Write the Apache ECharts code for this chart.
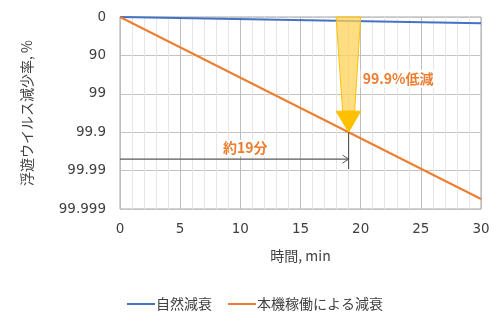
<!DOCTYPE html>
<html><head><meta charset="utf-8">
<script src="https://cdn.jsdelivr.net/npm/echarts@6/dist/echarts.min.js"></script>
<style>html,body{margin:0;padding:0;background:#fff}#c{width:504px;height:326px}</style>
</head><body><div id="c"></div>
<script>
// Data (y = log10 reduction, 0 => 0%, 1 => 90%, 2 => 99% ...)
const yTickLabels = ['0', '90', '99', '99.9', '99.99', '99.999'];
const naturalTimes = [0, 30];
const naturalDecay = [0, 0.165];
const machineTimes = [0, 30];
const machineDecay = [0, 4.74];
const seriesNames = ['自然減衰', '本機稼働による減衰'];
// annotation anchors
const arrowX = 19, arrowTop = 0, arrowTip = 3;
const timeArrowY = 3.7, timeArrowEndY = 3.96;
const reductionLabel = '99.9%低減';
const reductionLabelPos = [20.0, 1.61];
const timeLabel = '約19分';
const timeLabelPos = [10.4, 3.41];

const FONT = '"Noto Sans CJK JP", "Noto Sans", sans-serif';
const NUMFONT = '"DejaVu Sans", "Noto Sans", sans-serif';
const chart = echarts.init(document.getElementById('c'), null, {renderer: 'canvas'});

function annot(params, api) {
  const top = api.coord([arrowX, arrowTop]);
  const tip = api.coord([arrowX, arrowTip]);
  const headH = 21;
  const cx = tip[0];
  const body = {
    type: 'polygon',
    shape: {points: [[cx - 12.5, top[1]], [cx + 12, top[1]], [cx + 6, tip[1] - headH], [cx - 6, tip[1] - headH]]},
    style: {fill: 'rgba(255,210,90,0.75)', stroke: '#FFC000', lineWidth: 1}
  };
  const head = {
    type: 'polygon',
    shape: {points: [[cx - 12.5, tip[1] - headH], [cx + 12, tip[1] - headH], [cx, tip[1]]]},
    style: {fill: '#FFC000', stroke: '#FFC000'}
  };
  const a0 = api.coord([0, timeArrowY]);
  const a1 = api.coord([arrowX, timeArrowY]);
  const hl = {type: 'line', shape: {x1: a0[0], y1: a0[1], x2: a1[0], y2: a1[1]}, style: {stroke: '#595959', lineWidth: 1.2}};
  const chev = {type: 'polyline', shape: {points: [[a1[0] - 6, a1[1] - 4], [a1[0], a1[1]], [a1[0] - 6, a1[1] + 4]]}, style: {stroke: '#595959', lineWidth: 1, fill: null}};
  const vEnd = api.coord([arrowX, timeArrowEndY]);
  const vl = {type: 'line', shape: {x1: tip[0], y1: tip[1], x2: vEnd[0], y2: vEnd[1]}, style: {stroke: '#404040', lineWidth: 1}};
  const rp = api.coord(reductionLabelPos);
  const rt = {type: 'text', x: rp[0], y: rp[1], style: {text: reductionLabel, fill: '#ED7D31', font: 'bold 14px ' + FONT, align: 'left', verticalAlign: 'middle', backgroundColor: '#fff', padding: [2, 2]}};
  const tp = api.coord(timeLabelPos);
  const tt = {type: 'text', x: tp[0], y: tp[1], style: {text: timeLabel, fill: '#ED7D31', font: 'bold 14px ' + FONT, align: 'center', verticalAlign: 'middle', backgroundColor: '#fff', padding: [1, 3]}};
  return {type: 'group', children: [hl, chev, vl, body, head, rt, tt]};
}

chart.setOption({
  animation: false,
  textStyle: {fontFamily: FONT},
  grid: {left: 120, right: 23, top: 17, bottom: 117, show: true, borderColor: '#a6a6a6', borderWidth: 1, backgroundColor: 'transparent'},
  legend: {
    data: seriesNames, left: 122, top: 292, itemWidth: 28, itemHeight: 2, itemGap: 16,
    icon: 'rect',
    textStyle: {fontFamily: FONT, fontSize: 14, color: '#404040', padding: [0, 0, 0, -4]}
  },
  xAxis: {
    type: 'value', min: 0, max: 30, interval: 5,
    name: '時間, min', nameLocation: 'middle', nameGap: 40,
    nameTextStyle: {fontFamily: FONT, fontSize: 14, color: '#404040'},
    axisLine: {show: false}, axisTick: {show: false},
    axisLabel: {fontFamily: NUMFONT, fontSize: 13.5, color: '#404040', margin: 13},
    splitLine: {show: true, lineStyle: {color: '#bdbdbd', width: 1}},
    minorTick: {show: false, splitNumber: 5},
    minorSplitLine: {show: true, lineStyle: {color: '#e6e6e6', width: 1}}
  },
  yAxis: {
    type: 'value', min: 0, max: 5, interval: 1, inverse: true,
    name: '浮遊ウイルス減少率, %', nameLocation: 'middle', nameGap: 86, nameRotate: 90,
    nameTextStyle: {fontFamily: FONT, fontSize: 14, color: '#404040'},
    axisLine: {show: false}, axisTick: {show: false},
    axisLabel: {fontFamily: NUMFONT, fontSize: 13.5, color: '#404040', margin: 14, formatter: v => yTickLabels[Math.round(v)]},
    splitLine: {show: true, lineStyle: {color: '#c4c4c4', width: 1}}
  },
  series: [
    {name: seriesNames[0], type: 'line', data: naturalTimes.map((t, i) => [t, naturalDecay[i]]), symbol: 'none', lineStyle: {color: '#4472C4', width: 2}, itemStyle: {color: '#4472C4'}},
    {name: seriesNames[1], type: 'line', data: machineTimes.map((t, i) => [t, machineDecay[i]]), symbol: 'none', lineStyle: {color: '#ED7D31', width: 2}, itemStyle: {color: '#ED7D31'}},
    {type: 'custom', data: [[arrowX, arrowTip]], renderItem: annot, silent: true, z: 5}
  ]
});
</script></body></html>
